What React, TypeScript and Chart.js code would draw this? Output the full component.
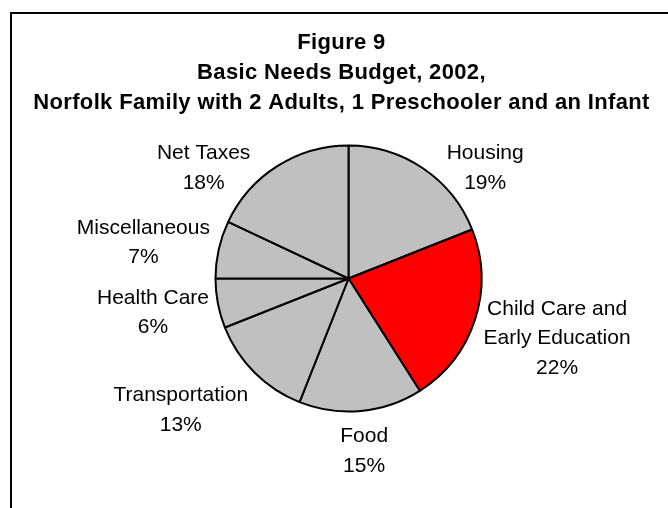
import React, { useEffect, useRef } from 'react';
import { Chart, registerables } from 'chart.js';

Chart.register(...registerables);

// ---- data ----
const categories: (string | string[])[] = [
  'Housing',
  ['Child Care and', 'Early Education'],
  'Food',
  'Transportation',
  'Health Care',
  'Miscellaneous',
  'Net Taxes',
];
const shares = [19, 22, 15, 13, 6, 7, 18];
const sliceColors = ['#C0C0C0', '#FF0000', '#C0C0C0', '#C0C0C0', '#C0C0C0', '#C0C0C0', '#C0C0C0'];
const titleLines = [
  'Figure 9',
  'Basic Needs Budget, 2002,',
  'Norfolk Family with 2 Adults, 1 Preschooler and an Infant',
];

// ---- style constants ----
const FONT = '"Liberation Sans", Arial, Helvetica, sans-serif';
const LABEL_SIZE = 21;
const LABEL_LINE = 29.5;
const LABEL_GAP = 9;
const TITLE_SIZE = 22;
const TITLE_LINE = 30;
const TITLE_FIRST_Y = 41;
const TITLE_X = 341.5;
const FRAME_LEFT = 11;
const FRAME_TOP = 13;

const framePlugin = {
  id: 'frameAndTitle',
  beforeDraw(chart: any) {
    const ctx = chart.ctx as CanvasRenderingContext2D;
    ctx.save();
    ctx.fillStyle = '#FFFFFF';
    ctx.fillRect(0, 0, chart.width, chart.height);
    ctx.strokeStyle = '#000000';
    ctx.lineWidth = 2;
    ctx.beginPath();
    ctx.moveTo(FRAME_LEFT, chart.height + 10);
    ctx.lineTo(FRAME_LEFT, FRAME_TOP);
    ctx.lineTo(chart.width + 10, FRAME_TOP);
    ctx.stroke();
    ctx.fillStyle = '#000000';
    ctx.font = `bold ${TITLE_SIZE}px ${FONT}`;
    (ctx as any).letterSpacing = '0.35px';
    ctx.textAlign = 'center';
    ctx.textBaseline = 'alphabetic';
    titleLines.forEach((line, i) => {
      ctx.fillText(line, TITLE_X, TITLE_FIRST_Y + i * TITLE_LINE + (TITLE_SIZE * 0.716) / 2);
    });
    (ctx as any).letterSpacing = '0px';
    ctx.restore();
  },
};

const labelPlugin = {
  id: 'pieLabels',
  afterDatasetsDraw(chart: any) {
    const ctx = chart.ctx as CanvasRenderingContext2D;
    const meta = chart.getDatasetMeta(0);
    const data = chart.data.datasets[0].data as number[];
    const total = data.reduce((a, b) => a + b, 0);
    const cap = LABEL_SIZE * 0.716;
    ctx.save();
    ctx.font = `${LABEL_SIZE}px ${FONT}`;
    ctx.fillStyle = '#000000';
    ctx.textAlign = 'center';
    ctx.textBaseline = 'alphabetic';
    const limitTop = chart.chartArea.top;
    meta.data.forEach((arc: any, i: number) => {
      const { x, y, startAngle, endAngle, outerRadius } = arc.getProps(
        ['x', 'y', 'startAngle', 'endAngle', 'outerRadius'],
        true
      );
      const cat = chart.data.labels[i];
      const lines: string[] = [
        ...(Array.isArray(cat) ? cat : [cat]),
        `${Math.round((data[i] / total) * 100)}%`,
      ];
      const w = Math.max(...lines.map((l) => ctx.measureText(l).width));
      const h = lines.length * LABEL_LINE;
      const mid = (startAngle + endAngle) / 2;
      const dx = Math.cos(mid);
      const dy = Math.sin(mid);
      const m = Math.max(Math.abs(dx), Math.abs(dy));
      const R = outerRadius + LABEL_GAP;
      let cx = x + R * dx + (w / 2) * (dx / m);
      let cy = y + R * dy + (h / 2) * (dy / m);
      if (cy - h / 2 < limitTop) {
        cy = limitTop + h / 2;
        const gTop = cy - h / 2 + LABEL_LINE / 2 - cap / 2;
        const gBot = cy + h / 2 - LABEL_LINE / 2 + cap / 2;
        const nearY = gBot < y ? gBot - y : gTop > y ? gTop - y : 0;
        if (Math.abs(nearY) < outerRadius) {
          const need = Math.sqrt(outerRadius * outerRadius - nearY * nearY);
          if (dx >= 0) cx = Math.max(cx, x + need + w / 2);
          else cx = Math.min(cx, x - need - w / 2);
        }
      }
      lines.forEach((l, k) => {
        const lineCenter = cy - h / 2 + LABEL_LINE / 2 + k * LABEL_LINE;
        ctx.fillText(l, cx, lineCenter + cap / 2);
      });
    });
    ctx.restore();
  },
};

export default function App() {
  const canvasRef = useRef<HTMLCanvasElement | null>(null);

  useEffect(() => {
    if (!canvasRef.current) return;
    const chart = new Chart(canvasRef.current, {
      type: 'pie',
      data: {
        labels: categories as any,
        datasets: [
          {
            data: shares,
            backgroundColor: sliceColors,
            borderColor: '#000000',
            borderWidth: 2,
          },
        ],
      },
      options: {
        animation: false,
        responsive: true,
        maintainAspectRatio: false,
        events: [],
        radius: 133,
        layout: { padding: { top: 137, bottom: 88, left: 29, right: 0 } },
        plugins: {
          legend: { display: false },
          title: { display: false },
          tooltip: { enabled: false },
        },
      } as any,
      plugins: [framePlugin, labelPlugin],
    });
    return () => chart.destroy();
  }, []);

  return (
    <div
      style={{
        position: 'fixed',
        left: 0,
        top: 0,
        width: 668,
        height: 508,
        background: '#FFFFFF',
        overflow: 'hidden',
      }}
    >
      <canvas ref={canvasRef} />
    </div>
  );
}
